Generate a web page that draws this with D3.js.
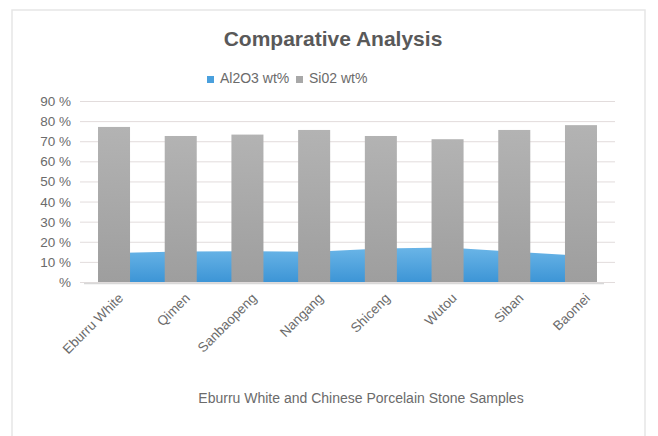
<!DOCTYPE html>
<html lang="en">
<head>
<meta charset="utf-8">
<title>Comparative Analysis</title>
<script src="https://cdn.jsdelivr.net/npm/d3@7"></script>
<style>
  body { margin: 0; background: #fff; }
  text { font-family: "Liberation Sans", Arial, Helvetica, sans-serif; }
</style>
</head>
<body>
<script>
// samples along the x axis
var samples = ["Eburru White", "Qimen", "Sanbaopeng", "Nangang", "Shiceng", "Wutou", "Siban", "Baomei"];
// wt% values
var al2o3 = [14.4, 15.2, 15.3, 15.0, 16.7, 17.2, 15.0, 13.0];
var sio2 = [77.1, 72.6, 73.3, 75.6, 72.6, 71.0, 75.6, 78.0];
var yTicks = [0, 10, 20, 30, 40, 50, 60, 70, 80, 90];

var width = 658, height = 436;
var svg = d3.select("body").append("svg")
  .attr("width", width)
  .attr("height", height);

var defs = svg.append("defs");
var gBlue = defs.append("linearGradient").attr("id", "blueGrad")
  .attr("x1", 0).attr("y1", 0).attr("x2", 0).attr("y2", 1);
gBlue.append("stop").attr("offset", "0%").attr("stop-color", "#6ab5e7");
gBlue.append("stop").attr("offset", "100%").attr("stop-color", "#3d95d6");
var gGrey = defs.append("linearGradient").attr("id", "greyGrad")
  .attr("x1", 0).attr("y1", 0).attr("x2", 0).attr("y2", 1);
gGrey.append("stop").attr("offset", "0%").attr("stop-color", "#b3b3b3");
gGrey.append("stop").attr("offset", "100%").attr("stop-color", "#9e9e9e");

// outer frame
svg.append("rect")
  .attr("x", 12).attr("y", 10)
  .attr("width", 633).attr("height", 440)
  .attr("fill", "none")
  .attr("stroke", "#e6e6e6")
  .attr("stroke-width", 1.5);

// title
svg.append("text")
  .attr("x", 333).attr("y", 46)
  .attr("text-anchor", "middle")
  .attr("font-size", 21)
  .attr("font-weight", "bold")
  .attr("fill", "#595959")
  .text("Comparative Analysis");

var x = d3.scaleBand()
  .domain(samples)
  .range([80, 615])
  .paddingInner(0.52)
  .paddingOuter(0.27);

var y = d3.scaleLinear()
  .domain([0, 90])
  .range([282, 101]);

// grid lines
svg.selectAll(".grid")
  .data(yTicks)
  .enter()
  .append("line")
  .attr("x1", 80).attr("x2", 615)
  .attr("y1", function(d) { return y(d) + 0.5; })
  .attr("y2", function(d) { return y(d) + 0.5; })
  .attr("stroke", "#e2dcdc")
  .attr("stroke-width", 1);

// y labels
svg.selectAll(".ylab")
  .data(yTicks)
  .enter()
  .append("text")
  .attr("x", 71)
  .attr("y", function(d) { return y(d) + 5; })
  .attr("text-anchor", "end")
  .attr("font-size", 13.5)
  .attr("fill", "#6b6b6b")
  .text(function(d) { return (d === 0 ? "" : d + " ") + "%"; });

// Al2O3 drawn as a band behind the columns
var area = d3.area()
  .x(function(d, i) { return x(samples[i]) + x.bandwidth() / 2; })
  .y0(y(0))
  .y1(function(d) { return y(d); });
svg.append("path")
  .datum(al2o3)
  .attr("d", area)
  .attr("fill", "url(#blueGrad)");

// SiO2 columns
svg.selectAll(".bar")
  .data(sio2)
  .enter()
  .append("rect")
  .attr("x", function(d, i) { return x(samples[i]); })
  .attr("y", function(d) { return y(d); })
  .attr("width", x.bandwidth())
  .attr("height", function(d) { return y(0) - y(d); })
  .attr("fill", "url(#greyGrad)");

// floor shadow
svg.append("line")
  .attr("x1", 84).attr("x2", 604)
  .attr("y1", y(0) + 1.5).attr("y2", y(0) + 1.5)
  .attr("stroke", "#d8d8d8")
  .attr("stroke-width", 1.5);

// x labels
svg.selectAll(".xlab")
  .data(samples)
  .enter()
  .append("text")
  .attr("transform", function(d) {
    return "translate(" + (x(d) + x.bandwidth() / 2 + 10) + ",299) rotate(-45)";
  })
  .attr("text-anchor", "end")
  .attr("font-size", 13.5)
  .attr("fill", "#6b6b6b")
  .text(function(d) { return d; });

// axis title
svg.append("text")
  .attr("x", 361).attr("y", 403)
  .attr("text-anchor", "middle")
  .attr("font-size", 14)
  .attr("fill", "#6b6b6b")
  .text("Eburru White and Chinese Porcelain Stone Samples");

// legend
var legend = [
  { name: "Al2O3 wt%", color: "#4aa0dd", x: 207 },
  { name: "Si02 wt%", color: "#a8a8a8", x: 296 }
];
var lg = svg.selectAll(".leg")
  .data(legend)
  .enter()
  .append("g")
  .attr("transform", function(d) { return "translate(" + d.x + ",83)"; });
lg.append("rect")
  .attr("x", 0).attr("y", -7)
  .attr("width", 7).attr("height", 7)
  .attr("fill", function(d) { return d.color; });
lg.append("text")
  .attr("x", 13).attr("y", 0)
  .attr("font-size", 14)
  .attr("fill", "#6b6b6b")
  .text(function(d) { return d.name; });
</script>
</body>
</html>
